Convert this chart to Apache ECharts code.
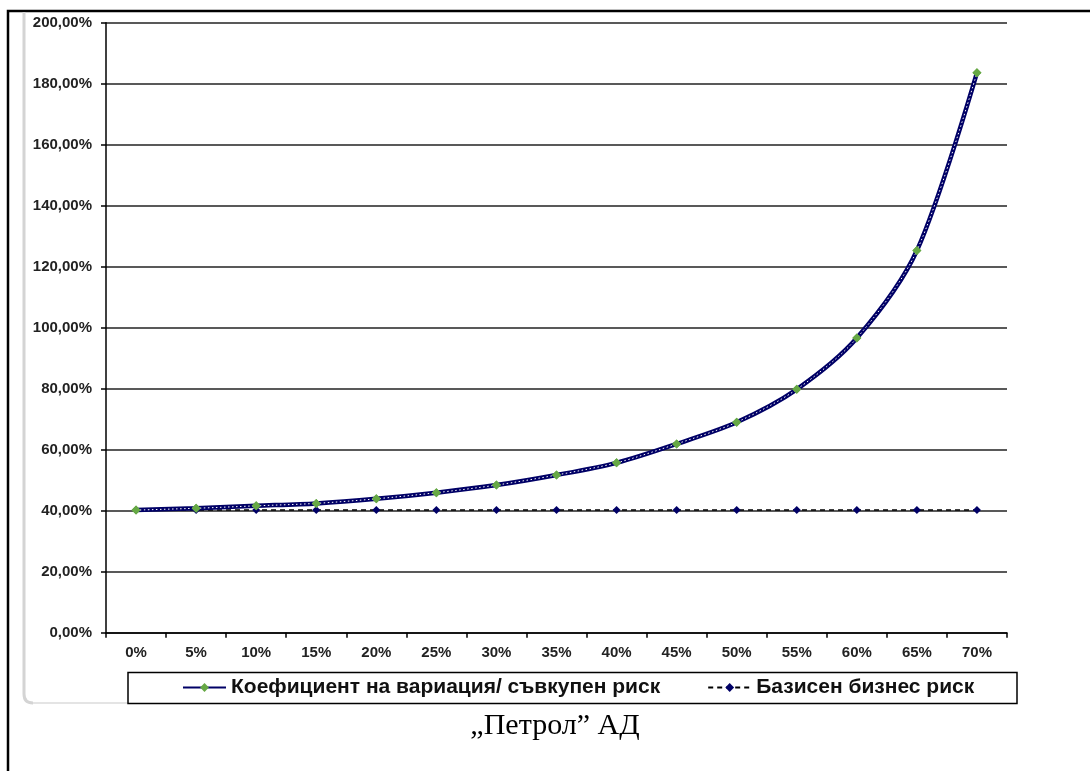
<!DOCTYPE html>
<html>
<head>
<meta charset="utf-8">
<script src="https://cdn.jsdelivr.net/npm/echarts@6/dist/echarts.min.js"></script>
<style>
  html,body{margin:0;padding:0;background:#fff;}
  #chart{width:1090px;height:771px;}
</style>
</head>
<body>
<div id="chart"></div>
<script>
// levels of debt (x-axis)
var categories = ['0%','5%','10%','15%','20%','25%','30%','35%','40%','45%','50%','55%','60%','65%','70%'];
// coefficient of variation / total risk, %
var totalRisk = [40.2, 40.8, 41.6, 42.4, 43.9, 45.9, 48.4, 51.7, 55.7, 61.9, 69.0, 79.8, 96.6, 125.3, 183.6];
// basic business risk, %
var businessRisk = [40.2, 40.2, 40.2, 40.2, 40.2, 40.2, 40.2, 40.2, 40.2, 40.2, 40.2, 40.2, 40.2, 40.2, 40.2];
var yTicks = {min: 0, max: 200, step: 20};

var name1 = 'Коефициент на вариация/ съвкупен риск';
var name2 = 'Базисен бизнес риск';

var chart = echarts.init(document.getElementById('chart'));

var lblFont = {color:'#222', fontFamily:'Liberation Sans, Arial, sans-serif', fontWeight:'bold', fontSize:15};

var option = {
    animation:false,
    backgroundColor:'#fff',
    grid:{left:106, right:83, top:22.7, bottom:138.3},
    xAxis:{
        type:'category',
        data:categories,
        boundaryGap:true,
        axisLine:{lineStyle:{color:'#000', width:1.5}},
        axisTick:{show:true, length:5, inside:false, alignWithLabel:false, lineStyle:{color:'#000', width:1.5}},
        axisLabel:Object.assign({margin:13}, lblFont),
        splitLine:{show:false}
    },
    yAxis:{
        type:'value',
        min:yTicks.min, max:yTicks.max, interval:yTicks.step,
        axisLine:{show:true, lineStyle:{color:'#000', width:1.5}},
        axisTick:{show:true, length:5, lineStyle:{color:'#000', width:1.5}},
        axisLabel:Object.assign({margin:14, formatter:function(v){return v.toFixed(2).replace('.', ',') + '%';}}, lblFont),
        splitLine:{show:true, lineStyle:{color:'#222', width:1.5}}
    },
    legend:{
        left:182, top:677,
        itemWidth:43, itemHeight:11, itemGap:47,
        padding:0,
        textStyle:{fontFamily:'Liberation Sans, Arial, sans-serif', fontWeight:'bold', fontSize:21, color:'#111'},
        data:[name1, name2]
    },
    series:[
        {
            name:name1, type:'line', data:totalRisk, smooth:0.3, z:2,
            lineStyle:{color:'#000066', width:4.5},
            symbol:'diamond', symbolSize:9,
            itemStyle:{color:'#66a845'}
        },
        {
            name:name1, type:'line', data:totalRisk, smooth:0.3, z:3,
            lineStyle:{color:'#ffffff', width:1, type:[1.5,2.5]},
            symbol:'diamond', symbolSize:9,
            itemStyle:{color:'#66a845'}
        },
        {
            name:name2, type:'line', data:businessRisk, z:1,
            lineStyle:{color:'#000', width:1.5, type:[5,4]},
            symbol:'diamond', symbolSize:8,
            itemStyle:{color:'#000066'}
        }
    ],
    graphic:[
        // outer frame
        {type:'polyline', silent:true, shape:{points:[[8,771],[8,11],[1090,11]]}, style:{stroke:'#000', lineWidth:2.5, fill:null}},
        // grey edge of the chart area
        {type:'line', silent:true, shape:{x1:24, y1:12, x2:24, y2:694}, style:{stroke:'#d4d4d4', lineWidth:3}},
        {type:'bezierCurve', silent:true, shape:{x1:24, y1:694, cpx1:24, cpy1:703, x2:33, y2:703}, style:{stroke:'#d4d4d4', lineWidth:3, fill:null}},
        {type:'line', silent:true, shape:{x1:33, y1:703, x2:128, y2:703}, style:{stroke:'#e4e4e4', lineWidth:2}},
        // legend box
        {type:'rect', silent:true, shape:{x:128, y:672.5, width:889, height:31}, style:{stroke:'#000', lineWidth:1.5, fill:null}},
        // caption
        {type:'text', silent:true, x:555, y:726, style:{text:'„Петрол” АД', font:'30px "Liberation Serif", "Times New Roman", serif', fill:'#000', textAlign:'center', textVerticalAlign:'middle'}}
    ]
};
chart.setOption(option);
</script>
</body>
</html>
